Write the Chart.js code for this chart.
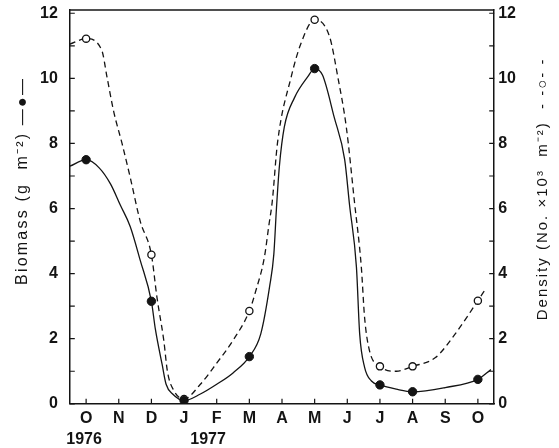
<!DOCTYPE html>
<html>
<head>
<meta charset="utf-8">
<script src="https://cdn.jsdelivr.net/npm/chart.js@4.4.1/dist/chart.umd.min.js"></script>
<style>
  html, body { margin: 0; padding: 0; background: #fff; }
  #wrap { width: 559px; height: 448px; }
</style>
</head>
<body>
<div id="wrap"><canvas id="chart" width="559" height="448"></canvas></div>
<script>
// Months, Oct 1976 .. Oct 1977 (index 0 = Oct 1976)
const monthLabels = ['O', 'N', 'D', 'J', 'F', 'M', 'A', 'M', 'J', 'J', 'A', 'S', 'O'];
const yearLabels = ['1976', '1977'];
const yearMonths = [0, 3];
const yTickValues = [0, 1, 2, 3, 4, 5, 6, 7, 8, 9, 10, 11, 12];

// Sampled values (markers)
const sampleMonths = [0, 2, 3, 5, 7, 9, 10, 12];
const biomassSamples = [7.5, 3.15, 0.1, 1.45, 10.3, 0.58, 0.37, 0.75];
const densitySamples = [11.22, 4.58, 0.15, 2.85, 11.8, 1.15, 1.15, 3.17];

// Hand-fitted curves
const biomassCurveX = [-0.5, 0, 0.4, 0.75, 1.05, 1.35, 1.66, 2.0, 2.12, 2.33, 2.45, 2.65, 3.0, 3.5, 4.0, 4.5, 5.0, 5.35, 5.62, 5.75, 5.83, 5.92, 6.07, 6.38, 6.79, 7.0, 7.24, 7.6, 7.92, 8.07, 8.28, 8.38, 8.53, 8.74, 9.0, 9.5, 10.0, 11.0, 12.0, 12.4];
const biomassCurveY = [7.3, 7.5, 7.25, 6.75, 6.1, 5.45, 4.4, 3.15, 2.3, 1.2, 0.6, 0.3, 0.1, 0.3, 0.6, 0.95, 1.45, 2.15, 3.6, 4.6, 6.0, 7.3, 8.5, 9.4, 10.05, 10.3, 10.1, 8.8, 7.5, 6.1, 4.2, 2.14, 1.12, 0.7, 0.58, 0.45, 0.37, 0.5, 0.75, 1.05];

const densityCurveX = [-0.5, 0, 0.48, 0.64, 0.84, 1.1, 1.35, 1.66, 2.0, 2.17, 2.38, 2.49, 2.69, 3.0, 3.5, 4.0, 4.5, 5.0, 5.2, 5.46, 5.6, 5.7, 5.86, 6.28, 6.58, 7.0, 7.46, 7.71, 7.97, 8.22, 8.43, 8.53, 8.68, 9.0, 9.5, 10.0, 10.7, 11.3, 12.0, 12.25];
const densityCurveY = [11.05, 11.22, 10.86, 10.04, 9.0, 8.0, 6.96, 5.6, 4.58, 3.27, 1.94, 1.0, 0.4, 0.15, 0.6, 1.25, 1.95, 2.85, 3.48, 4.5, 5.5, 6.2, 8.0, 10.04, 11.07, 11.8, 11.27, 10.04, 8.5, 6.2, 4.2, 2.65, 1.63, 1.15, 1.0, 1.15, 1.42, 2.14, 3.17, 3.55];

const INK = '#141414';
const FONT = '"Liberation Sans", Arial, Helvetica, sans-serif';
Chart.defaults.font.family = FONT;
Chart.defaults.font.size = 16;
Chart.defaults.font.weight = 'bold';
Chart.defaults.color = INK;

const toPoints = (xs, ys) => xs.map((x, i) => ({ x: x, y: ys[i] }));
const noTopPad = s => { s.paddingTop = 0; };

// frame top, inward tick marks, year labels and rotated axis titles
const decorations = {
    id: 'decorations',
    afterDraw(chart) {
        const { ctx, chartArea: a, scales } = chart;
        ctx.save();
        ctx.strokeStyle = INK;
        ctx.lineWidth = 1.5;
        ctx.beginPath();
        ctx.moveTo(a.left, a.top);
        ctx.lineTo(a.right, a.top);
        ctx.stroke();

        ctx.lineWidth = 1.2;
        ctx.beginPath();
        scales.x.ticks.forEach(t => {
            const px = scales.x.getPixelForValue(t.value);
            ctx.moveTo(px, a.bottom);
            ctx.lineTo(px, a.bottom - 5);
        });
        scales.y.ticks.forEach(t => {
            const py = scales.y.getPixelForValue(t.value);
            ctx.moveTo(a.left, py);
            ctx.lineTo(a.left + 5, py);
        });
        scales.y1.ticks.forEach(t => {
            const py = scales.y1.getPixelForValue(t.value);
            ctx.moveTo(a.right, py);
            ctx.lineTo(a.right - 5, py);
        });
        ctx.stroke();

        ctx.fillStyle = INK;
        ctx.font = 'bold 16px ' + FONT;
        ctx.textBaseline = 'middle';
        ctx.textAlign = 'center';
        yearLabels.forEach((txt, i) => {
            const px = scales.x.getPixelForValue(yearMonths[i]);
            const shift = i === 0 ? -2 : 24;
            ctx.fillText(txt, px + shift, a.bottom + 36);
        });

        const midY = (a.top + a.bottom) / 2;
        ctx.font = '16px ' + FONT;
        ctx.letterSpacing = '2.2px';
        ctx.save();
        ctx.translate(a.left - 47, midY - 26);
        ctx.rotate(-Math.PI / 2);
        ctx.fillText('Biomass (g  m\u207B\u00B2) \u2014\u25CF\u2014', 0, 0);
        ctx.restore();

        ctx.font = '15px ' + FONT;
        ctx.letterSpacing = '2px';
        ctx.save();
        ctx.translate(a.right + 49, midY - 18);
        ctx.rotate(-Math.PI / 2);
        ctx.fillText('Density (No. \u00D710\u00B3  m\u207B\u00B2)  - -\u25CB- -', 0, 0);
        ctx.restore();
        ctx.restore();
    }
};

new Chart(document.getElementById('chart'), {
    type: 'line',
    data: {
        datasets: [
            {
                type: 'scatter',
                label: 'Biomass samples',
                data: toPoints(sampleMonths, biomassSamples),
                yAxisID: 'y',
                pointRadius: 4.2,
                pointBackgroundColor: INK,
                pointBorderColor: INK,
                pointBorderWidth: 1,
                order: 0
            },
            {
                type: 'scatter',
                label: 'Density samples',
                data: toPoints(sampleMonths, densitySamples),
                yAxisID: 'y1',
                pointRadius: 3.6,
                pointBackgroundColor: '#ffffff',
                pointBorderColor: INK,
                pointBorderWidth: 1.3,
                order: 1
            },
            {
                label: 'Biomass curve',
                data: toPoints(biomassCurveX, biomassCurveY),
                yAxisID: 'y',
                borderColor: INK,
                borderWidth: 1.3,
                pointRadius: 0,
                cubicInterpolationMode: 'monotone',
                fill: false,
                order: 2
            },
            {
                label: 'Density curve',
                data: toPoints(densityCurveX, densityCurveY),
                yAxisID: 'y1',
                borderColor: INK,
                borderWidth: 1.3,
                borderDash: [6, 4],
                pointRadius: 0,
                cubicInterpolationMode: 'monotone',
                fill: false,
                order: 3
            }
        ]
    },
    options: {
        responsive: false,
        animation: false,
        devicePixelRatio: 1,
        layout: { padding: { left: 28, right: 39, top: 10, bottom: 15 } },
        plugins: { legend: { display: false }, tooltip: { enabled: false } },
        scales: {
            x: {
                type: 'linear',
                position: 'bottom',
                min: -0.5,
                max: 12.5,
                afterBuildTicks: s => { s.ticks = monthLabels.map((_, i) => ({ value: i })); },
                ticks: {
                    callback: v => monthLabels[v],
                    autoSkip: false,
                    maxRotation: 0,
                    padding: 5
                },
                grid: { display: false, drawTicks: false },
                border: { display: true, color: INK, width: 1.5 }
            },
            y: {
                position: 'left',
                min: 0,
                max: 12.1,
                afterBuildTicks: s => { s.ticks = yTickValues.map(v => ({ value: v })); },
                afterFit: noTopPad,
                ticks: {
                    callback: v => (v % 2 === 0 ? v : ''),
                    padding: 12
                },
                grid: { display: false, drawTicks: false },
                border: { display: true, color: INK, width: 1.5 }
            },
            y1: {
                position: 'right',
                min: 0,
                max: 12.1,
                afterBuildTicks: s => { s.ticks = yTickValues.map(v => ({ value: v })); },
                afterFit: noTopPad,
                ticks: {
                    callback: v => (v % 2 === 0 ? v : ''),
                    padding: 4
                },
                grid: { display: false, drawTicks: false },
                border: { display: true, color: INK, width: 1.5 }
            }
        }
    },
    plugins: [decorations]
});
</script>
</body>
</html>
